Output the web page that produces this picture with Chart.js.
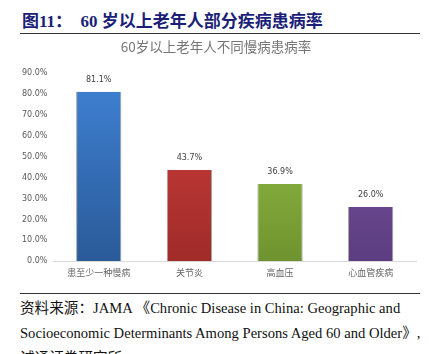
<!DOCTYPE html>
<html>
<head>
<meta charset="utf-8">
<script src="https://cdn.jsdelivr.net/npm/chart.js@4"></script>
<style>
  body { margin: 0; width: 432px; height: 354px; background: #fff; position: relative; overflow: hidden; }
  .head { position: absolute; left: 22px; top: 7px; font: bold 17px "Liberation Serif", "Noto Sans CJK SC", serif; color: #1c1f78; white-space: nowrap; }
  .rule { position: absolute; left: 20px; width: 400px; height: 1px; background: #333; }
  .src { position: absolute; left: 20px; font: 14.6px "Liberation Serif", "Noto Sans CJK SC", serif; color: #111; white-space: nowrap; }
  #wrap { position: absolute; left: 0; top: 36px; width: 432px; height: 248px; }
</style>
</head>
<body>
<div class="head">图11：&nbsp;&nbsp;60 岁以上老年人部分疾病患病率</div>
<div class="rule" style="top:33px"></div>
<div id="wrap"><canvas id="c"></canvas></div>
<div class="rule" style="top:293px"></div>
<div class="src" style="top:296px">资料来源：JAMA 《Chronic Disease in China: Geographic and</div>
<div class="src" style="top:321px">Socioeconomic Determinants Among Persons Aged 60 and Older》,</div>
<div class="src" style="top:346px">诚通证券研究所</div>
<script>
const categories = ['患至少一种慢病', '关节炎', '高血压', '心血管疾病'];
const rates = [81.1, 43.7, 36.9, 26.0];
const yTicks = [0, 10, 20, 30, 40, 50, 60, 70, 80, 90];

// top / bottom colours of each bar's gradient
const topColors = ['#3f82d4', '#d2413d', '#9dc84a', '#8059ab'];
const bottomColors = ['#2a5a98', '#9f2b29', '#6e932f', '#5c3d80'];

const valueLabels = {
    id: 'valueLabels',
    afterDatasetsDraw(chart) {
        const ctx = chart.ctx;
        const meta = chart.getDatasetMeta(0);
        ctx.save();
        ctx.font = '8px "DejaVu Sans", sans-serif';
        ctx.fillStyle = '#404040';
        ctx.textAlign = 'center';
        ctx.textBaseline = 'bottom';
        meta.data.forEach((bar, i) => {
            ctx.fillText(rates[i].toFixed(1) + '%', bar.x, bar.y - 8);
        });
        ctx.restore();
    }
};

new Chart(document.getElementById('c'), {
    type: 'bar',
    data: {
        labels: categories,
        datasets: [{
            data: rates,
            backgroundColor: (c) => {
                const area = c.chart.chartArea;
                if (!area) return topColors[c.dataIndex];
                const bar = c.chart.getDatasetMeta(0).data[c.dataIndex];
                const y0 = bar && isFinite(bar.y) ? bar.y : area.top;
                const g = c.chart.ctx.createLinearGradient(0, y0, 0, area.bottom);
                g.addColorStop(0, topColors[c.dataIndex]);
                g.addColorStop(1, bottomColors[c.dataIndex]);
                return g;
            },
            borderColor: '#a6a6a6',
            borderWidth: { left: 1, right: 1, top: 0, bottom: 0 },
            borderSkipped: false,
            barPercentage: 0.5,
            categoryPercentage: 1
        }]
    },
    options: {
        responsive: true,
        maintainAspectRatio: false,
        animation: false,
        layout: { padding: { left: 16, right: 16, top: 0, bottom: 0 } },
        plugins: {
            legend: { display: false },
            tooltip: { enabled: false },
            title: {
                display: true,
                text: '60岁以上老年人不同慢病患病率',
                color: '#767676',
                font: { size: 13.5, family: '"Noto Sans CJK SC", sans-serif', weight: 'normal' },
                padding: { top: 3, bottom: 18 }
            }
        },
        scales: {
            y: {
                min: 0,
                max: 90,
                afterBuildTicks: (axis) => { axis.ticks = yTicks.map(v => ({ value: v })); },
                grid: { display: false, drawTicks: false },
                border: { display: false },
                ticks: {
                    color: '#595959',
                    padding: 6,
                    font: { size: 8, family: '"DejaVu Sans", sans-serif' },
                    callback: (v) => v.toFixed(1) + '%'
                }
            },
            x: {
                grid: { display: false, drawTicks: false },
                border: { color: '#d9d9d9', width: 1 },
                ticks: {
                    color: '#666666',
                    padding: 6,
                    font: { size: 9, family: '"Noto Sans CJK SC", sans-serif' }
                }
            }
        }
    },
    plugins: [valueLabels]
});
</script>
</body>
</html>
